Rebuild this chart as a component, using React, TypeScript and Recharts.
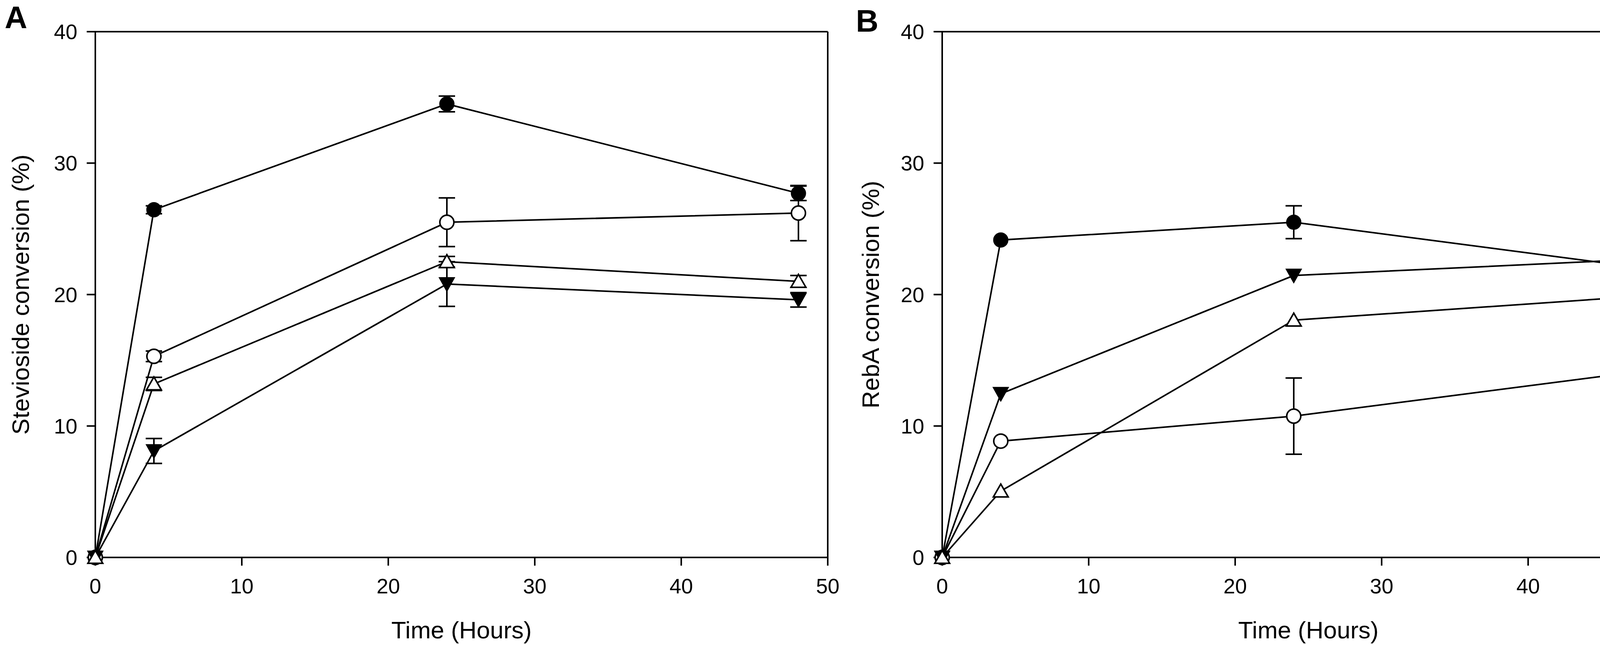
import React from 'react'
import { LineChart, Line, XAxis, YAxis, ErrorBar, ReferenceLine } from 'recharts'

const hours = [0, 4, 24, 48]
const xTicks = [0, 10, 20, 30, 40, 50]
const yTicks = [0, 10, 20, 30, 40]

// panel A: stevioside conversion (%)
const steviaFilledCircle = [0, 26.45, 34.5, 27.7]
const steviaFilledCircleErr = [null, 0.3, 0.6, 0.55]
const steviaOpenCircle = [0, 15.3, 25.5, 26.2]
const steviaOpenCircleErr = [null, 0.4, 1.85, 2.1]
const steviaOpenTriangle = [0, 13.2, 22.5, 21.0]
const steviaOpenTriangleErr = [null, 0.5, 0.4, 0.45]
const steviaFilledTriangle = [0, 8.1, 20.8, 19.6]
const steviaFilledTriangleErr = [null, 0.95, 1.7, 0.55]

// panel B: RebA conversion (%)
const rebaFilledCircle = [0, 24.15, 25.5, 22.0]
const rebaFilledCircleErr = [null, null, 1.25, 1.15]
const rebaOpenCircle = [0, 8.85, 10.75, 14.2]
const rebaOpenCircleErr = [null, null, 2.9, 4.05]
const rebaOpenTriangle = [0, 5.05, 18.05, 19.9]
const rebaOpenTriangleErr = [null, null, null, null]
const rebaFilledTriangle = [0, 12.45, 21.45, 22.7]
const rebaFilledTriangleErr = [null, null, null, 0.5]

const font = '"Liberation Sans", Arial, sans-serif'
const ink = '#000'

const stevia = hours.map((t, i) => ({
  t,
  fc: steviaFilledCircle[i], fcErr: steviaFilledCircleErr[i],
  oc: steviaOpenCircle[i], ocErr: steviaOpenCircleErr[i],
  ot: steviaOpenTriangle[i], otErr: steviaOpenTriangleErr[i],
  ft: steviaFilledTriangle[i], ftErr: steviaFilledTriangleErr[i],
}))

const reba = hours.map((t, i) => ({
  t,
  fc: rebaFilledCircle[i], fcErr: rebaFilledCircleErr[i],
  oc: rebaOpenCircle[i], ocErr: rebaOpenCircleErr[i],
  ot: rebaOpenTriangle[i], otErr: rebaOpenTriangleErr[i],
  ft: rebaFilledTriangle[i], ftErr: rebaFilledTriangleErr[i],
}))

const filledCircle = (p: any) => (
  <circle key={`fc-${p.index}`} cx={p.cx} cy={p.cy} r={18} fill={ink} stroke={ink} strokeWidth={3} />
)
const openCircle = (p: any) => (
  <circle key={`oc-${p.index}`} cx={p.cx} cy={p.cy} r={18} fill="#fff" stroke={ink} strokeWidth={4} />
)
const openTriangle = (p: any) => (
  <polygon
    key={`ot-${p.index}`}
    points={`${p.cx},${p.cy - 18} ${p.cx + 19},${p.cy + 15} ${p.cx - 19},${p.cy + 15}`}
    fill="#fff" stroke={ink} strokeWidth={4} strokeLinejoin="miter"
  />
)
const filledTriangle = (p: any) => (
  <polygon
    key={`ft-${p.index}`}
    points={`${p.cx - 19},${p.cy - 16} ${p.cx + 19},${p.cy - 16} ${p.cx},${p.cy + 18}`}
    fill={ink} stroke={ink} strokeWidth={3}
  />
)

const series = [
  { key: 'fc', dot: filledCircle },
  { key: 'oc', dot: openCircle },
  { key: 'ft', dot: filledTriangle },
  { key: 'ot', dot: openTriangle },
]

interface PanelProps {
  data: typeof stevia
  yLabel: string
  width: number
  yAxisWidth: number
  rightMargin: number
  labelOffset: number
}

function Panel({ data, yLabel, width, yAxisWidth, rightMargin, labelOffset }: PanelProps) {
  return (
    <LineChart width={width} height={1650} data={data} margin={{ top: 81, right: rightMargin, bottom: 0, left: 0 }}>
      <XAxis
        dataKey="t" type="number" domain={[0, 50]} ticks={xTicks} height={224}
        axisLine={{ stroke: ink, strokeWidth: 4 }} tickLine={{ stroke: ink, strokeWidth: 4 }}
        tickSize={21} tickMargin={33}
        tick={{ fontSize: 54, fill: ink, fontFamily: font }}
        label={{ value: 'Time (Hours)', position: 'insideBottom', offset: 17, fontSize: 62, fill: ink, fontFamily: font }}
      />
      <YAxis
        type="number" domain={[0, 40]} ticks={yTicks} width={yAxisWidth}
        axisLine={{ stroke: ink, strokeWidth: 4 }} tickLine={{ stroke: ink, strokeWidth: 4 }}
        tickSize={22} tickMargin={24}
        tick={{ fontSize: 54, fill: ink, fontFamily: font }}
        label={{
          value: yLabel, angle: -90, position: 'insideLeft', offset: labelOffset,
          fontSize: 62, fill: ink, fontFamily: font, style: { textAnchor: 'middle' },
        }}
      />
      <ReferenceLine y={40} stroke={ink} strokeWidth={4} />
      <ReferenceLine x={50} stroke={ink} strokeWidth={4} />
      {series.map(s => (
        <Line
          key={s.key} dataKey={s.key} type="linear" stroke={ink} strokeWidth={4}
          dot={s.dot} activeDot={false} isAnimationActive={false}
        >
          <ErrorBar dataKey={`${s.key}Err`} direction="y" width={21} stroke={ink} strokeWidth={4} />
        </Line>
      ))}
    </LineChart>
  )
}

const panelLetter: React.CSSProperties = {
  position: 'absolute', fontFamily: font, fontWeight: 700, fontSize: 80, lineHeight: '80px', color: ink,
}

export default function App() {
  return (
    <div style={{ position: 'absolute', left: 0, top: 0, width: 4318, height: 1650, background: '#fff', overflow: 'hidden' }}>
      <div style={{ position: 'absolute', left: 0, top: 0 }}>
        <Panel data={stevia} yLabel="Stevioside conversion (%)" width={2180} yAxisWidth={244} rightMargin={61} labelOffset={52} />
      </div>
      <div style={{ position: 'absolute', left: 2160, top: 0 }}>
        <Panel data={reba} yLabel="RebA conversion (%)" width={2158} yAxisWidth={252} rightMargin={31} labelOffset={68} />
      </div>
      <div style={{ ...panelLetter, left: 12, top: 5 }}>A</div>
      <div style={{ ...panelLetter, left: 2191, top: 14 }}>B</div>
    </div>
  )
}
